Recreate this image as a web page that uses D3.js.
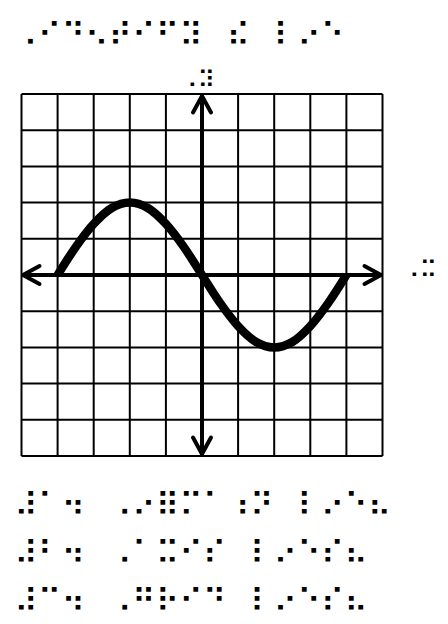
<!DOCTYPE html>
<html><head><meta charset="utf-8">
<script src="https://cdn.jsdelivr.net/npm/d3@7"></script>
<style>html,body{margin:0;padding:0;background:#fff}svg{display:block}</style>
</head><body>
<script>
// Braille texts (Unicode braille, U+2800 used as the blank cell)
const titleText = "⠠⠊⠙⠢⠞⠊⠋⠽⠀⠮⠀⠇⠔⠑";
const xLabel = "⠠⠭";
const yLabel = "⠠⠽";
const answerLines = [
  "⠼⠁⠲⠀⠠⠔⠿⠍⠁⠰⠝⠀⠇⠔⠑⠦",
  "⠼⠃⠲⠀⠠⠁⠭⠊⠎⠀⠇⠔⠑⠎⠦",
  "⠼⠉⠲⠀⠠⠛⠗⠊⠙⠀⠇⠔⠑⠎⠦"
];
// Grid ticks
const gridTicks = [-5, -4, -3, -2, -1, 0, 1, 2, 3, 4, 5];
// Curve points
const curveX = [-4, -3.5, -3, -2.5, -2, -1.5, -1, -0.5, 0, 0.5, 1, 1.5, 2, 2.5, 3, 3.5, 4];
const curveY = [0, 0.77, 1.41, 1.85, 2, 1.85, 1.41, 0.77, 0, -0.77, -1.41, -1.85, -2, -1.85, -1.41, -0.77, 0];

const W = 448, H = 624;
const svg = d3.select("body").append("svg").attr("width", W).attr("height", H);

const x = d3.scaleLinear().domain([-5, 5]).range([21.5, 382.5]);
const y = d3.scaleLinear().domain([-5, 5]).range([456, 94]);

const brailleFont = "'DejaVu Sans'";
const bigSize = 32.2, smallSize = 24;

// Title
svg.append("text").attr("x", 14).attr("y", 46)
  .attr("font-family", brailleFont).attr("font-size", bigSize)
  .text(titleText);

// Grid
const g = svg.append("g");
g.selectAll("line.v").data(gridTicks).join("line")
  .attr("class", "v")
  .attr("x1", d => x(d)).attr("x2", d => x(d))
  .attr("y1", y(-5)).attr("y2", y(5))
  .attr("stroke", "#000").attr("stroke-width", 2);
g.selectAll("line.h").data(gridTicks).join("line")
  .attr("class", "h")
  .attr("y1", d => y(d)).attr("y2", d => y(d))
  .attr("x1", x(-5)).attr("x2", x(5))
  .attr("stroke", "#000").attr("stroke-width", 2);

// Axes with arrowheads
const axisG = svg.append("g").attr("stroke", "#000").attr("stroke-width", 4)
  .attr("fill", "none").attr("stroke-linecap", "round").attr("stroke-linejoin", "round");
const x0 = x(0), y0 = y(0);
const xl = x(-5) + 1.5, xr = x(5) - 1.5, yt = y(5) + 2, yb = y(-5) - 2;
axisG.append("line").attr("x1", xl).attr("x2", xr).attr("y1", y0).attr("y2", y0);
axisG.append("line").attr("x1", x0).attr("x2", x0).attr("y1", yt).attr("y2", yb);
const ah = 16.5, aw = 9;
axisG.append("path").attr("d", `M${xl + ah},${y0 - aw}L${xl},${y0}L${xl + ah},${y0 + aw}`);
axisG.append("path").attr("d", `M${xr - ah},${y0 - aw}L${xr},${y0}L${xr - ah},${y0 + aw}`);
axisG.append("path").attr("d", `M${x0 - aw},${yt + ah}L${x0},${yt}L${x0 + aw},${yt + ah}`);
axisG.append("path").attr("d", `M${x0 - aw},${yb - ah}L${x0},${yb}L${x0 + aw},${yb - ah}`);

// Curve
const pts = curveX.map((d, i) => [d, curveY[i]]);
svg.append("path").datum(pts)
  .attr("d", d3.line().x(d => x(d[0])).y(d => y(d[1])).curve(d3.curveMonotoneX))
  .attr("fill", "none").attr("stroke", "#000").attr("stroke-width", 8.5)
  .attr("stroke-linecap", "butt").attr("stroke-linejoin", "round");

// Axis labels
svg.append("text").attr("x", 180).attr("y", 88)
  .attr("font-family", brailleFont).attr("font-size", smallSize)
  .text(yLabel);
svg.append("text").attr("x", 402).attr("y", 278)
  .attr("font-family", brailleFont).attr("font-size", smallSize)
  .text(xLabel);

// Answer lines
svg.selectAll("text.ans").data(answerLines).join("text")
  .attr("class", "ans")
  .attr("x", 14).attr("y", (d, i) => 516 + i * 48)
  .attr("font-family", brailleFont).attr("font-size", bigSize)
  .text(d => d);
</script>
</body></html>
